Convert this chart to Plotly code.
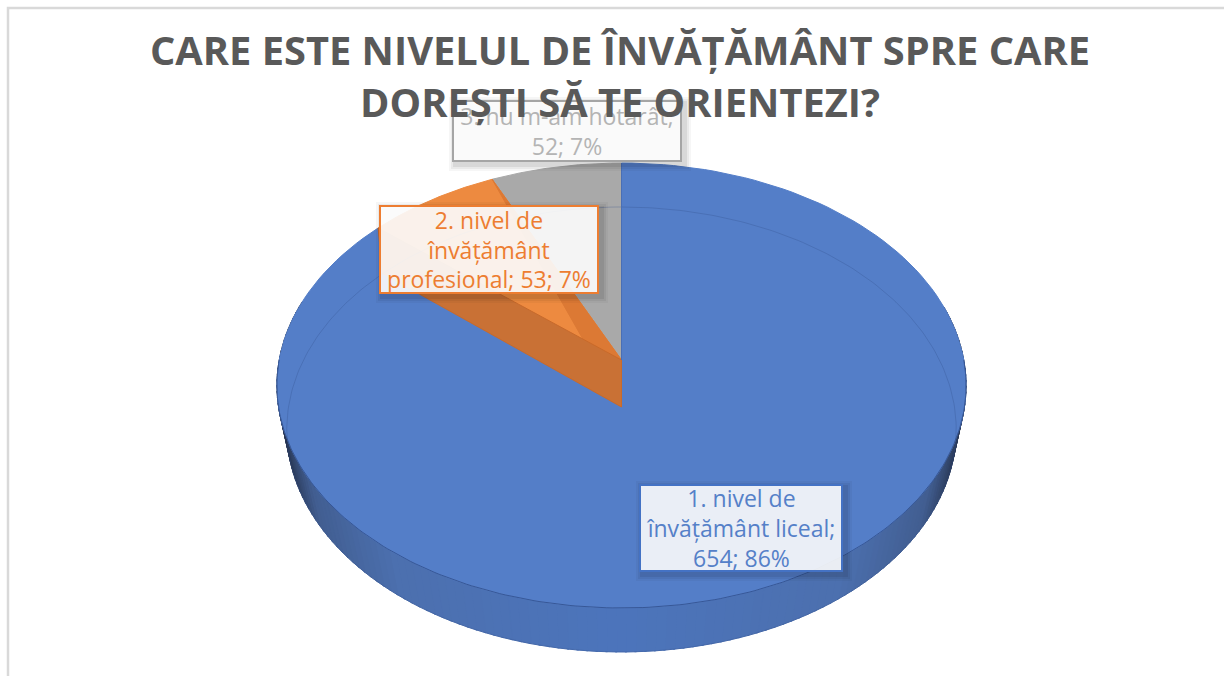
import numpy as np
import plotly.graph_objects as go

# ---- data ----
title_text = "CARE ESTE NIVELUL DE ÎNVĂȚĂMÂNT SPRE CARE<br>DOREȘTI SĂ TE ORIENTEZI?"
categories = ["1. nivel de<br>învățământ liceal;<br>", "2. nivel de<br>învățământ<br>profesional; ", "3. nu m-am hotarât;<br>"]
values = [654, 53, 52]
percents = [86, 7, 7]

# ---- styles ----
BLUE, ORANGE, GRAY = "#547ec8", "#ed8a40", "#a9a9a9"
TEXT_COLORS = ["#5580c8", "#ed7d31", "#b4b4b4"]
BORDERS = ["#4472c4", "#ed7d31", "#a5a5a5"]
BOX_FILL = ["rgba(255,255,255,0.89)", "rgba(255,255,255,0.90)", "rgba(251,251,251,0.97)"]
BOXES = [(639, 484, 843, 572), (379, 205, 599, 294), (452, 100, 682, 162)]

# projective camera of the tilted disc (top face and bottom face)
def project(theta, cx, cy, R, a, c):
    u, v = np.sin(theta), np.cos(theta)
    d = 1 + c * v
    return cx + R * u / d, (cy + a * v) / d

def top(theta):
    return project(theta, 621.5, 360.0, 342.3, -178.3, 0.1146)

def bot(theta):
    return project(theta, 621.5, 407.0, 333.0, -179.1, 0.101)

total = sum(values)
edges = np.concatenate([[0.0], np.cumsum(values)]) / total * 2 * np.pi

fig = go.Figure()

def poly(xs, ys, color, line=None, lw=1):
    fig.add_trace(go.Scatter(x=list(xs), y=list(ys), mode="lines", fill="toself", fillcolor=color,
                             line=dict(color=line or color, width=lw), hoverinfo="skip", showlegend=False))

def stroke(xs, ys, color, lw=1):
    fig.add_trace(go.Scatter(x=list(xs), y=list(ys), mode="lines", line=dict(color=color, width=lw),
                             hoverinfo="skip", showlegend=False))

def wall_colour(t):
    stops = [0.0, 0.6, 0.85, 0.95, 1.0]
    r = np.interp(t, stops, [76, 76, 66, 44, 38])
    g = np.interp(t, stops, [117, 112, 94, 60, 50])
    b = np.interp(t, stops, [188, 175, 145, 92, 78])
    return f"rgb({int(r)},{int(g)},{int(b)})"

# outer wall of the biggest slice, shaded strip by strip
step = np.radians(1.5)
th = np.arange(np.pi / 2 - 0.25, 3 * np.pi / 2 + 0.25, step)
for t0 in th:
    t1 = t0 + step * 1.2
    x0, y0 = top(t0); x1, y1 = top(t1)
    x2, y2 = bot(t1); x3, y3 = bot(t0)
    poly([x0, x1, x2, x3, x0], [y0, y1, y2, y3, y0], wall_colour(abs(np.sin(t0))))

ax, ay = 621.5, 360.0
bx, by = 621.5, 407.0

def wedge(a0, a1, color, line=None):
    t = np.linspace(a0, a1, 160)
    x, y = top(t)
    poly(np.r_[ax, x, ax], np.r_[ay, y, ay], color, line)

wedge(edges[0], edges[1], BLUE)
wedge(edges[2], edges[3], GRAY)
wedge(edges[1], edges[2], ORANGE)

# cut walls of the orange slice, seen through the top
x_mid, y_mid = top(edges[2])
poly([x_mid, ax, bx, x_mid], [y_mid, ay, by, y_mid], "#dc7934")
x_out, y_out = top(edges[1])
x_lo, y_lo = bot(edges[1])
poly([x_out, ax, bx, x_lo, x_out], [y_out, ay, by, y_lo, y_out], "#c97135", "#c96a2a")

# fine rim lines
rim = np.linspace(0, 2 * np.pi, 361)
lx, ly = bot(rim)
stroke(lx, ly, "rgba(50,80,140,0.30)")
front = np.linspace(np.pi / 2, 3 * np.pi / 2, 200)
fx, fy = top(front)
stroke(fx, fy, "rgba(45,75,135,0.75)")
stroke([ax, ax], [top(0.0)[1], ay], "#4a6fb5")

# label boxes: soft shadow + real text annotation
shapes = [dict(type="rect", xref="x", yref="y", x0=8, y0=8, x1=1230, y1=690,
               line=dict(color="#d9d9d9", width=2.5), fillcolor="rgba(0,0,0,0)", layer="below")]
annotations = []
for i, box in enumerate(BOXES):
    x0, y0, x1, y1 = box
    for grow, alpha in [(6, 0.035), (4, 0.05), (2, 0.07)]:
        shapes.append(dict(type="rect", xref="x", yref="y", x0=x0 + 3 - grow, y0=y0 + 3 - grow,
                           x1=x1 + 3 + grow, y1=y1 + 3 + grow, line=dict(width=0),
                           fillcolor=f"rgba(0,0,0,{alpha})", layer="above"))
    annotations.append(dict(xref="x", yref="y", x=(x0 + x1) / 2, y=(y0 + y1) / 2, xanchor="center", yanchor="middle",
                            width=x1 - x0 - 4, height=y1 - y0 - 4, borderpad=0, borderwidth=2,
                            bordercolor=BORDERS[i], bgcolor=BOX_FILL[i], showarrow=False, align="center", valign="middle",
                            text=f"{categories[i]}{values[i]}; {percents[i]}%",
                            font=dict(family="Open Sans", size=23, color=TEXT_COLORS[i])))
annotations.append(dict(xref="x", yref="y", x=620, y=75, xanchor="center", yanchor="middle", showarrow=False,
                        text=f"<b>{title_text}</b>", align="center",
                        font=dict(family="Open Sans", size=39.8, color="#595959")))

fig.update_layout(width=1224, height=676, margin=dict(l=0, r=0, t=0, b=0), autosize=False,
                  paper_bgcolor="white", plot_bgcolor="white", showlegend=False,
                  xaxis=dict(range=[0, 1224], visible=False, fixedrange=True),
                  yaxis=dict(range=[676, 0], visible=False, fixedrange=True),
                  shapes=shapes, annotations=annotations)
fig.write_html("out.html", config=dict(displayModeBar=False),
               post_script="document.body.style.margin='0';")
